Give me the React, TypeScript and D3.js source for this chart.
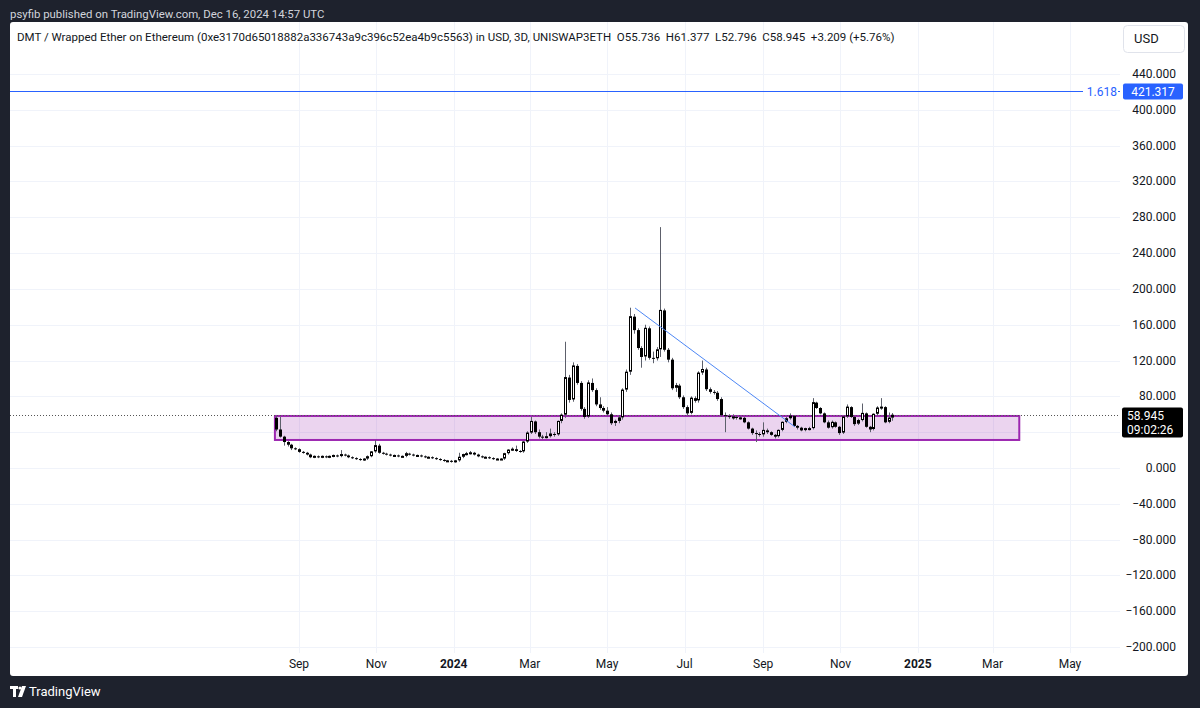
import React from 'react';
import * as d3 from 'd3';

// 3D candles (USD)
const closes = [
  43, 35, 29, 26, 22, 21, 18, 17, 15, 12,
  13, 12, 13, 12, 13, 14, 13, 15, 14, 12,
  11, 10, 9, 10, 12.6, 18, 25, 17, 16, 15,
  14, 14, 13, 13, 16, 15, 14, 14, 13, 12,
  12, 11, 10, 9, 8, 8, 7, 8, 12, 15,
  16, 17, 15, 13, 12, 12, 11, 10, 10, 10,
  16, 20, 21, 19, 18, 29, 39, 52, 40, 35,
  34, 35, 38, 37, 52, 59, 101, 76, 114, 95,
  66, 57, 95, 87, 71, 67, 64, 60, 50, 52,
  56, 87, 107, 169, 154, 134, 124, 156, 123, 122,
  132, 176, 132, 121, 89, 92, 79, 68, 61, 78,
  75, 106, 110, 88, 85, 84, 77, 59, 58, 57,
  57, 56, 56, 51, 44, 39, 38, 37, 42, 40,
  37, 35, 42, 51, 55, 58, 47, 45, 42, 44,
  44, 73, 67, 61, 51, 45, 51, 46, 39, 57,
  68, 57, 49, 53, 61, 46, 43, 60, 67, 68,
  51, 55.736, 58.945,
];
const highs = [
  58, 57, 36, 30, 27, 23, 22, 19, 18, 16,
  14, 14, 14, 14, 14, 15, 15, 20, 16, 15,
  13, 12, 11, 11, 14, 19, 31, 27, 18, 17,
  16, 15, 15, 14, 18, 17, 16, 15, 15, 14,
  13, 13, 12, 11, 10, 9, 9, 9, 17, 16,
  18, 19, 18, 16, 14, 13, 13, 12, 11, 11,
  17, 21, 23, 25, 20, 30, 41, 57, 53, 43,
  37, 40, 44, 40, 53, 61, 141, 104, 118, 116,
  97, 68, 98, 100, 89, 79, 69, 68, 62, 54,
  58, 89, 110, 179, 172, 156, 136, 160, 158, 130,
  135, 269, 178, 134, 123, 95, 94, 81, 70, 80,
  80, 108, 120, 112, 90, 87, 86, 79, 62, 60,
  60, 59, 58, 57, 52, 45, 42, 40, 51, 44,
  41, 38, 43, 52, 57, 61, 59, 48, 46, 45,
  46, 78, 74, 68, 62, 53, 53, 52, 47, 58,
  71, 69, 58, 55, 72, 62, 47, 61, 69, 78,
  69, 62, 61.377,
];
const lows = [
  41, 34, 25, 24, 20, 20, 17, 16, 14, 11,
  11, 11, 11, 11, 11, 12, 12, 12, 13, 11,
  10, 9, 8, 8, 9, 12, 17, 16, 15, 14,
  13, 13, 12, 12, 12, 14, 13, 13, 12, 11,
  11, 10, 9, 8, 7, 7, 6, 6, 7, 11,
  14, 15, 14, 12, 11, 11, 10, 9, 9, 9,
  9, 15, 19, 18, 17, 17, 28, 38, 38, 33,
  32, 33, 34, 35, 36, 50, 56, 73, 74, 93,
  64, 55, 56, 85, 69, 65, 62, 58, 48, 47,
  50, 54, 85, 104, 150, 132, 112, 120, 121, 117,
  120, 124, 130, 118, 87, 85, 77, 66, 59, 60,
  73, 73, 104, 86, 83, 82, 75, 57, 40, 55,
  54, 54, 54, 50, 43, 37, 29, 35, 35, 38,
  36, 33, 34, 41, 50, 54, 46, 43, 41, 41,
  42, 43, 66, 60, 50, 44, 44, 45, 37, 38,
  56, 56, 47, 48, 52, 45, 40, 42, 58, 65,
  50, 50, 52.796,
];
const firstOpen = 56;
const firstCandle = new Date(2023, 7, 14);
const stepDays = 3;

const priceTicks = [440, 400, 360, 320, 280, 240, 200, 160, 120, 80, 40, 0, -40, -80, -120, -160, -200];
const tickDates = [
  new Date(2023, 8, 1), new Date(2023, 10, 1), new Date(2024, 0, 1), new Date(2024, 2, 1),
  new Date(2024, 4, 1), new Date(2024, 6, 1), new Date(2024, 8, 1), new Date(2024, 10, 1),
  new Date(2025, 0, 1), new Date(2025, 2, 1), new Date(2025, 4, 1),
];
const tickLabels = ['Sep', 'Nov', '2024', 'Mar', 'May', 'Jul', 'Sep', 'Nov', '2025', 'Mar', 'May'];

// drawings
const zoneDates = [new Date(2023, 7, 13), new Date(2025, 2, 22)];
const zoneValues = [58.1, 31.3];
const trendDates = [new Date(2024, 4, 23), new Date(2024, 8, 26)];
const trendValues = [178.7, 46];
const fibLevel = 421.317;
const lastPrice = 58.945;

const title = 'DMT / Wrapped Ether on Ethereum (0xe3170d65018882a336743a9c396c52ea4b9c5563) in USD, 3D, UNISWAP3ETH  O55.736  H61.377  L52.796  C58.945  +3.209 (+5.76%)';

const fmt = (v: number) => (v < 0 ? '\u2212' : '') + Math.abs(v).toFixed(3);

export default function App() {
  const W = 1200, H = 708;
  const m = { l: 10, r: 1120, t: 22, b: 653 };
  const x = d3.scaleTime().domain([new Date(2023, 8, 1), new Date(2025, 4, 1)]).range([299, 1070]);
  const y = d3.scaleLinear().domain([0, 440]).range([468, 74]);
  const font = 'Roboto, "Noto Sans", sans-serif';

  const candles = closes.map((c, i) => ({
    date: d3.timeDay.offset(firstCandle, i * stepDays),
    o: i === 0 ? firstOpen : closes[i - 1],
    h: highs[i], l: lows[i], c,
  }));

  const fibY = Math.round(y(fibLevel)) + 0.5;
  const lastY = Math.round(y(lastPrice)) + 0.5;

  return (
    <svg width={W} height={H} style={{ position: 'absolute', left: 0, top: 0 }} fontFamily={font}>
      <rect width={W} height={H} fill="#1e222d" />
      <text x={10} y={18} fontSize={11.4} fill="#d1d4dc">psyfib published on TradingView.com, Dec 16, 2024 14:57 UTC</text>
      <rect x={10} y={22} width={1178} height={654} rx={3} fill="#ffffff" />
      <defs>
        <clipPath id="plot"><rect x={m.l} y={m.t} width={m.r - m.l} height={m.b - m.t} /></clipPath>
        <clipPath id="axis"><rect x={m.r} y={m.t} width={68} height={m.b - m.t} /></clipPath>
      </defs>

      {/* grid */}
      <g stroke="#f0f3fa" strokeWidth={1}>
        {priceTicks.map(v => (
          <line key={v} x1={m.l} x2={m.r} y1={Math.round(y(v)) + 0.5} y2={Math.round(y(v)) + 0.5} />
        ))}
        {tickDates.map((d, i) => (
          <line key={i} x1={Math.round(x(d)) + 0.5} x2={Math.round(x(d)) + 0.5} y1={m.t} y2={m.b} />
        ))}
      </g>

      <g clipPath="url(#plot)">
        {/* zone */}
        <rect x={x(zoneDates[0])} y={y(zoneValues[0])} width={x(zoneDates[1]) - x(zoneDates[0])}
          height={y(zoneValues[1]) - y(zoneValues[0])} fill="rgba(156,39,176,0.2)" stroke="#9c27b0" strokeWidth={2} />

        {/* fib line */}
        <line x1={m.l} x2={1083} y1={fibY} y2={fibY} stroke="#2962ff" strokeWidth={1} />
        <line x1={1118} x2={m.r} y1={fibY} y2={fibY} stroke="#2962ff" strokeWidth={1} />
        <text x={1117} y={fibY + 4} fontSize={12} fill="#2962ff" textAnchor="end">1.618</text>

        {/* last price line */}
        <line x1={m.l} x2={m.r} y1={lastY} y2={lastY} stroke="#555" strokeWidth={1} strokeDasharray="1,2" />

        {/* candles */}
        {candles.map((d, i) => {
          const cx = Math.round(x(d.date));
          const up = d.c >= d.o;
          const top = y(Math.max(d.o, d.c));
          const bot = y(Math.min(d.o, d.c));
          const bh = Math.max(1, bot - top);
          return (
            <g key={i}>
              <line x1={cx + 0.5} x2={cx + 0.5} y1={y(d.h)} y2={y(d.l)} stroke="#5d606b" strokeWidth={1} />
              {up
                ? <rect x={cx - 0.5} y={top} width={2} height={Math.max(1, bh - 1)} fill="#ffffff" stroke="#000" strokeWidth={1} />
                : <rect x={cx - 1} y={top} width={3} height={bh} fill="#000000" />}
            </g>
          );
        })}

        {/* trend line */}
        <line x1={x(trendDates[0])} y1={y(trendValues[0])} x2={x(trendDates[1])} y2={y(trendValues[1])}
          stroke="#4d87f5" strokeWidth={1} />
      </g>

      {/* title */}
      <text x={17} y={41} fontSize={11.5} fill="#131722" style={{ whiteSpace: 'pre' }}>{title}</text>
      <rect x={1123.5} y={25.5} width={61} height={27} rx={4} fill="#fff" stroke="#e0e3eb" />
      <text x={1134} y={43} fontSize={13} fill="#131722">USD</text>

      {/* price axis */}
      <g clipPath="url(#axis)">
        {priceTicks.map(v => (
          <text key={v} x={1176} y={y(v) + 4} fontSize={12} fill="#131722" textAnchor="end">{fmt(v)}</text>
        ))}
        <rect x={1123} y={fibY - 8} width={60} height={16} rx={2} fill="#2962ff" />
        <text x={1153} y={fibY + 4.5} fontSize={12} fill="#fff" textAnchor="middle">{fibLevel.toFixed(3)}</text>
        <rect x={1122} y={lastY - 8} width={61} height={30} rx={2} fill="#000" />
        <text x={1127} y={lastY + 4} fontSize={12} fill="#fff">{lastPrice.toFixed(3)}</text>
        <text x={1127} y={lastY + 18} fontSize={12} fill="#fff">09:02:26</text>
      </g>

      {/* time axis */}
      {tickDates.map((d, i) => (
        <text key={i} x={x(d)} y={668} fontSize={12} fill="#131722" textAnchor="middle"
          fontWeight={/^\d+$/.test(tickLabels[i]) ? 700 : 400}>{tickLabels[i]}</text>
      ))}

      {/* footer logo */}
      <g fill="#ffffff">
        <rect x={10} y={686} width={8} height={3} />
        <rect x={13} y={686} width={3} height={11} />
        <circle cx={20} cy={688} r={1.6} />
        <polygon points="22,686 26,686 22,697 18,697" />
      </g>
      <text x={29} y={696} fontSize={13} fill="#ffffff">TradingView</text>
    </svg>
  );
}
